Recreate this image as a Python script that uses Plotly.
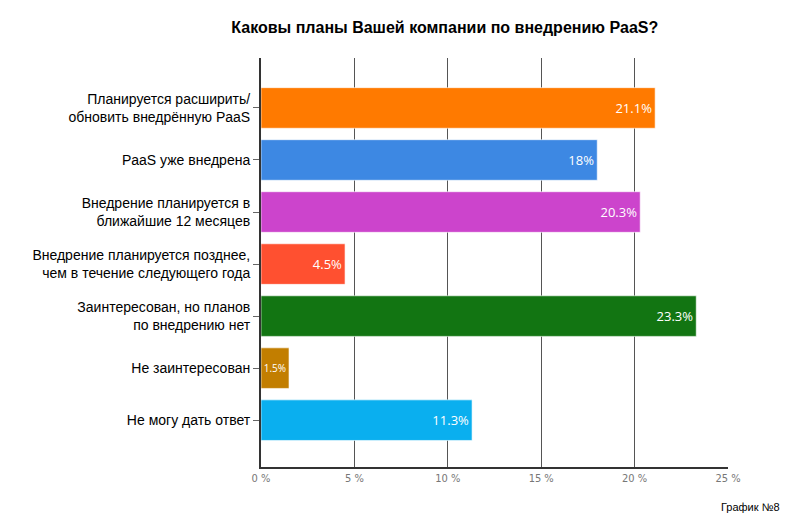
import plotly.graph_objects as go

categories = [
    "Планируется расширить/<br>обновить внедрённую PaaS",
    "PaaS уже внедрена",
    "Внедрение планируется в<br>ближайшие 12 месяцев",
    "Внедрение планируется позднее,<br>чем в течение следующего года",
    "Заинтересован, но планов<br>по внедрению нет",
    "Не заинтересован",
    "Не могу дать ответ",
]
values = [21.1, 18, 20.3, 4.5, 23.3, 1.5, 11.3]
labels = ["21.1%", "18%", "20.3%", "4.5%", "23.3%", "1.5%", "11.3%"]
label_sizes = [13, 13, 13, 13, 13, 10, 13]
colors = ["#FF7A00", "#3D88E3", "#CC44CC", "#FF5030", "#127512", "#C27E00", "#0AAFEF"]
tick_vals = [0, 5, 10, 15, 20, 25]
tick_text = ["0 %", "5 %", "10 %", "15 %", "20 %", "25 %"]

fig = go.Figure(go.Bar(
    y=categories, x=values, orientation="h",
    marker=dict(color=colors, line=dict(width=1, color="rgba(255,255,255,0.6)")),
    width=0.78,
    text=labels, textposition="inside", insidetextanchor="end",
    textangle=0, constraintext="none",
    textfont=dict(color="white", size=label_sizes, family="Open Sans, Arial"),
    cliponaxis=False,
))

fig.update_layout(
    width=800, height=519,
    margin=dict(l=261, r=72, t=58, b=52),
    paper_bgcolor="white", plot_bgcolor="white",
    title=dict(text="<b>Каковы планы Вашей компании по внедрению PaaS?</b>",
               x=0.556, xanchor="center", y=0.947, yanchor="middle",
               font=dict(size=16, color="black", family="Liberation Sans Narrow, Arial Narrow, Arial")),
    showlegend=False,
)
fig.update_xaxes(
    range=[0, 25], tickvals=tick_vals, ticktext=tick_text,
    showgrid=True, gridcolor="#555555", gridwidth=1,
    showline=True, linecolor="#333333", linewidth=2,
    ticks="", tickfont=dict(size=11, color="#777777", family="DejaVu Sans Condensed, Arial"),
    zeroline=False, fixedrange=True,
)
fig.update_yaxes(
    categoryorder="array", categoryarray=categories,
    range=[6.9, -0.96],
    showline=True, linecolor="#333333", linewidth=2,
    ticks="outside", ticklen=6, tickcolor="#666666",
    tickfont=dict(size=14, color="black", family="Arial, Liberation Sans"),
    showgrid=False, fixedrange=True,
)
fig.add_annotation(text="График №8", xref="paper", yref="paper",
                   x=1.115, y=-0.098, xanchor="right", yanchor="middle",
                   showarrow=False,
                   font=dict(size=11, color="black", family="Liberation Sans Narrow, Arial Narrow, Arial"))

fig.write_html("out.html")
